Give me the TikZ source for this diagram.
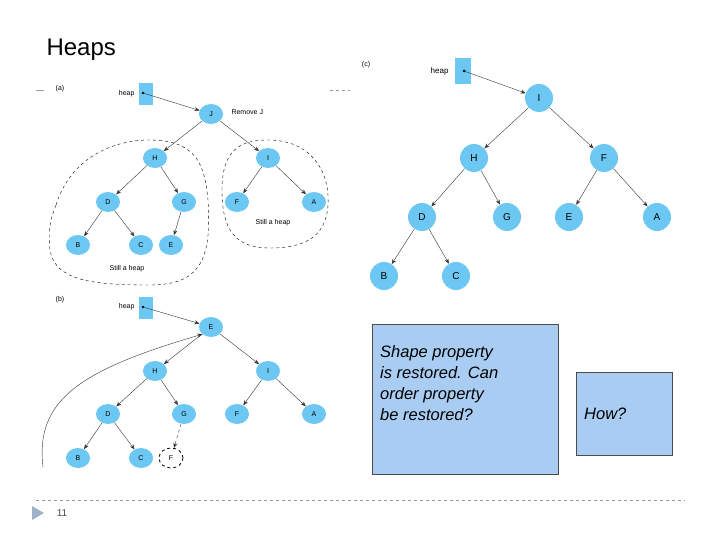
\documentclass[tikz,border=0pt]{standalone}
\usepackage{fontspec}
\setmainfont{Liberation Sans}
\usetikzlibrary{arrows.meta,shapes.geometric}
\definecolor{nodeblue}{HTML}{6CC8F2}
\definecolor{boxblue}{HTML}{A9CDF2}
\definecolor{trigray}{HTML}{9DB3C8}
\tikzset{
 tn/.style={ellipse,fill=nodeblue,minimum width=24pt,minimum height=20pt,inner sep=0pt,font=\fontsize{7}{8}\selectfont},
 cn/.style={circle,fill=nodeblue,minimum size=28pt,inner sep=0pt,font=\fontsize{10}{11}\selectfont},
 hp/.style={rectangle,fill=nodeblue,minimum width=14pt,minimum height=22pt,inner sep=0pt},
 ed/.style={-{Stealth[length=5pt,width=4pt]},thin,black!80},
 sm/.style={font=\fontsize{7}{8}\selectfont},
 txbox/.style={draw=black!70,fill=boxblue,inner sep=0pt,anchor=north west},
 txt/.style={align=left,font=\fontsize{16.5}{21}\selectfont\itshape,inner sep=0pt}
}
\begin{document}
\begin{tikzpicture}[x=1pt,y=-1pt]
\useasboundingbox (0,0) rectangle (720,540);
\node[anchor=west,font=\fontsize{24}{28}\selectfont] (title) at (43,50) {Heaps};
% (a)
\node[sm] (la) at (60,89) {(a)};
\draw[black!40,thin] (36,90)--(44,90);
\draw[black!40,thin,dashed] (330,90)--(350,90);
\node[hp] (ha) at (146,94) {};
\node[sm,anchor=east] (hal) at (138,94) {heap};
\fill (143,93) circle (1.3);
\node[tn] (aJ) at (211,114) {J};
\node[sm,anchor=west] (rj) at (228,112) {Remove J};
\node[tn] (aH) at (155,158) {H};
\node[tn] (aI) at (268,158) {I};
\node[tn] (aD) at (108,202) {D};
\node[tn] (aG) at (184,202) {G};
\node[tn] (aF) at (237,202) {F};
\node[tn] (aA) at (314,202) {A};
\node[tn] (aB) at (78,245) {B};
\node[tn] (aC) at (141,245) {C};
\node[tn] (aE) at (171,245) {E};
\draw[ed] (143,93) -- (aJ);
\foreach \a/\b in {aJ/aH,aJ/aI,aH/aD,aH/aG,aI/aF,aI/aA,aD/aB,aD/aC,aG/aE}\draw[ed] (\a)--(\b);
\draw[dashed,thin] (56,205) .. controls (70,160) and (110,140) .. (150,140) .. controls (200,140) and (205,170) .. (208,200) .. controls (212,260) and (200,285) .. (150,285) .. controls (90,285) and (55,280) .. (50,250) .. controls (48,230) and (50,220) .. (56,205);
\draw[dashed,thin] (222,190) .. controls (222,150) and (240,140) .. (268,140) .. controls (310,140) and (330,170) .. (328,205) .. controls (326,240) and (300,248) .. (270,248) .. controls (235,248) and (222,230) .. (222,190);
\node[sm] (s1) at (273,223) {Still a heap};
\node[sm] (s2) at (127,269) {Still a heap};
% (b)
\node[sm] (lb) at (60,300) {(b)};
\node[hp] (hb) at (146,308) {};
\node[sm,anchor=east] (hbl) at (138,307) {heap};
\fill (143,307) circle (1.3);
\node[tn] (bE) at (211,327) {E};
\node[tn] (bH) at (155,371) {H};
\node[tn] (bI) at (268,371) {I};
\node[tn] (bD) at (108,414) {D};
\node[tn] (bG) at (184,414) {G};
\node[tn] (bF) at (237,414) {F};
\node[tn] (bA) at (314,414) {A};
\node[tn] (bB) at (78,458) {B};
\node[tn] (bC) at (141,458) {C};
\node[tn,fill=none,draw,dashed,thick] (bX) at (171,458) {F};
\draw[ed] (143,307) -- (bE);
\foreach \a/\b in {bE/bH,bE/bI,bH/bD,bH/bG,bI/bF,bI/bA,bD/bB,bD/bC}\draw[ed] (\a)--(\b);
\draw[ed,dashed] (bG)--(bX);
\coordinate (cs) at (43,467);
\draw[ed] (cs) .. controls (35,400) and (80,370) .. (bE.south west);
% (c)
\node[sm] (lc) at (366,65) {(c)};
\node[hp,minimum width=16pt,minimum height=26pt] (hc) at (463,71) {};
\node[sm,font=\fontsize{8}{9}\selectfont,anchor=east] (hcl) at (452,71) {heap};
\fill (464,71) circle (1.5);
\node[cn] (cI) at (539,98) {I};
\node[cn] (cH) at (474,158) {H};
\node[cn] (cF) at (604,158) {F};
\node[cn] (cD) at (422,217) {D};
\node[cn] (cG) at (507,217) {G};
\node[cn] (cE) at (569,217) {E};
\node[cn] (cA) at (657,217) {A};
\node[cn] (cB) at (384,276) {B};
\node[cn] (cC) at (456,276) {C};
\draw[ed] (464,71) -- (cI);
\foreach \a/\b in {cI/cH,cI/cF,cH/cD,cH/cG,cF/cE,cF/cA,cD/cB,cD/cC}\draw[ed] (\a)--(\b);
% text boxes
\node[txbox,minimum width=186pt,minimum height=150pt] (tb1) at (372,324) {};
\node[txt,anchor=north west] (tb1t) at (380,345) {Shape property\\is restored. Can\\order property\\be restored?};
\node[txbox,minimum width=96pt,minimum height=83pt] (tb2) at (576,372) {};
\node[txt,anchor=west] (tb2t) at (584,414) {How?};
% footer
\draw[black!40,dashed,thin] (36,500)--(685,500);
\fill[trigray] (32,506)--(32,520)--(44,513)--cycle;
\node[font=\fontsize{10}{11}\selectfont,text=black!70] (pg) at (62,513) {11};
\end{tikzpicture}
\end{document}
